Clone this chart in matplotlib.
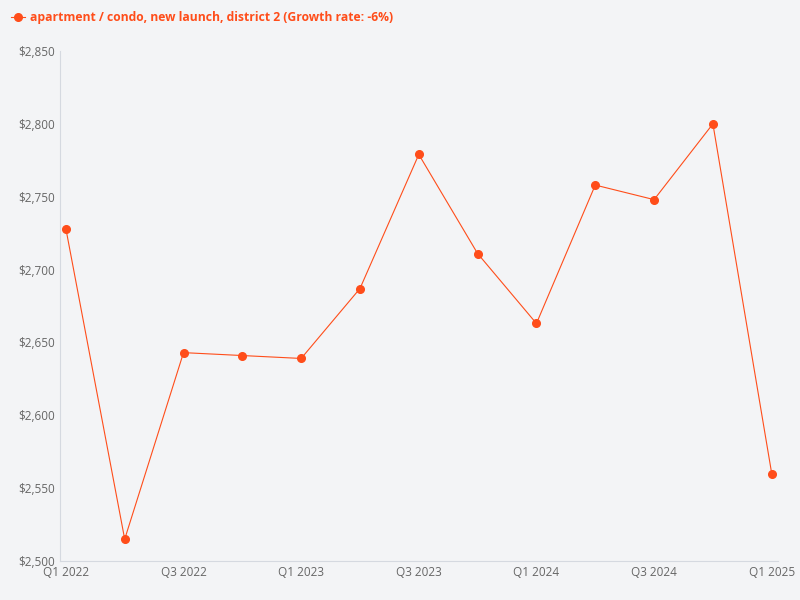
import matplotlib.pyplot as plt
from matplotlib.ticker import FuncFormatter

quarters = ['Q1 2022', 'Q2 2022', 'Q3 2022', 'Q4 2022', 'Q1 2023', 'Q2 2023', 'Q3 2023',
            'Q4 2023', 'Q1 2024', 'Q2 2024', 'Q3 2024', 'Q4 2024', 'Q1 2025']
prices = [2728, 2515, 2643, 2641, 2639, 2687, 2779, 2711, 2663, 2758, 2748, 2800, 2560]
label = 'apartment / condo, new launch, district 2 (Growth rate: -6%)'

plt.rcParams['font.family'] = ['Open Sans', 'DejaVu Sans']
bg = '#f3f4f6'
color = '#ff4d1a'

fig = plt.figure(figsize=(8, 6), dpi=100, facecolor=bg)
ax = fig.add_axes([0.075, 0.065, 0.897, 0.85], facecolor=bg)

x = list(range(len(quarters)))
ax.plot(x, prices, color=color, lw=0.8, marker='o', ms=5.5, label=label)

ax.set_ylim(2500, 2850)
ax.set_xlim(-0.1, 12.1)
ax.set_yticks(range(2500, 2851, 50))
ax.yaxis.set_major_formatter(FuncFormatter(lambda v, p: f'${v:,.0f}'))
ax.set_xticks(x[::2])
ax.set_xticklabels(quarters[::2])
ax.tick_params(colors='#666666', labelsize=8.5, length=0)
for s in ['top', 'right']:
    ax.spines[s].set_visible(False)
ax.spines['left'].set_color('#d5d9e0')
ax.spines['bottom'].set_color('#d5d9e0')

leg = fig.legend(loc='upper left', bbox_to_anchor=(0.0, 1.0), frameon=False,
                 handlelength=1.2, handletextpad=0.4, fontsize=8.7)
for t in leg.get_texts():
    t.set_color(color)
    t.set_fontweight('bold')

fig.savefig('out.png', facecolor=bg)
